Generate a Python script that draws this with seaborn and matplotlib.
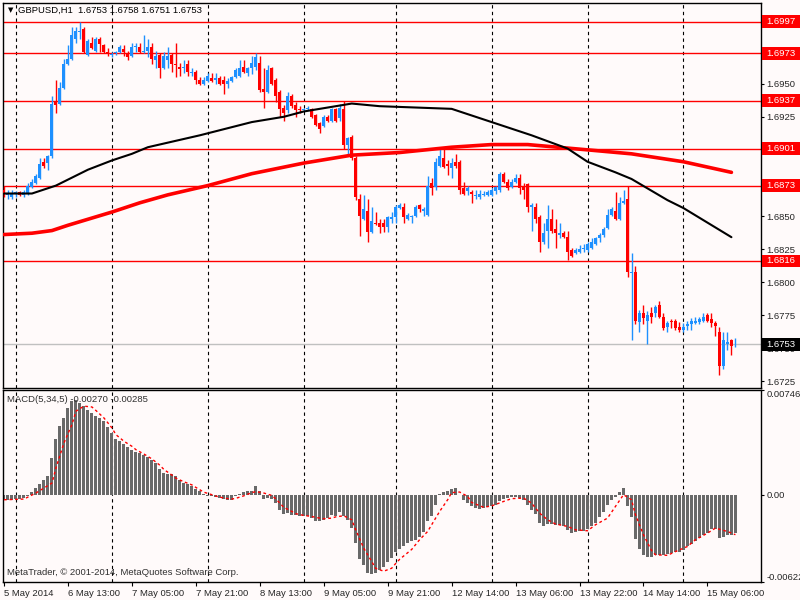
import numpy as np
import pandas as pd
import seaborn as sns
import matplotlib.pyplot as plt
from matplotlib import transforms
from matplotlib.patches import Rectangle

# GBPUSD H1 candles (one per hour, bar 0 = 5 May 21:00)
opens = [
    1.6870, 1.6866, 1.6864, 1.6867, 1.6868, 1.6866, 1.6867, 1.6872, 1.6875, 1.6879,
    1.6891, 1.6890, 1.6895, 1.6937, 1.6935, 1.6947, 1.6965, 1.6969, 1.6984, 1.6989,
    1.6991, 1.6972, 1.6981, 1.6975, 1.6984, 1.6979, 1.6974, 1.6972, 1.6973, 1.6974,
    1.6976, 1.6973, 1.6971, 1.6978, 1.6978, 1.6974, 1.6975, 1.6978, 1.6968, 1.6972,
    1.6962, 1.6968, 1.6972, 1.6965, 1.6963, 1.6962, 1.6965, 1.6958, 1.6959, 1.6953,
    1.6950, 1.6952, 1.6954, 1.6953, 1.6954, 1.6953, 1.6950, 1.6952, 1.6955, 1.6956,
    1.6963, 1.6958, 1.6962, 1.6963, 1.6966, 1.6946, 1.6944, 1.6962, 1.6953, 1.6944,
    1.6932, 1.6930, 1.6941, 1.6934, 1.6931, 1.6930, 1.6931, 1.6931, 1.6926, 1.6920,
    1.6918, 1.6925, 1.6922, 1.6931, 1.6924, 1.6931, 1.6904, 1.6910, 1.6894, 1.6863,
    1.6848, 1.6854, 1.6838, 1.6845, 1.6845, 1.6845, 1.6842, 1.6848, 1.6849, 1.6856,
    1.6857, 1.6848, 1.6849, 1.6850, 1.6858, 1.6854, 1.6851, 1.6875, 1.6872, 1.6888,
    1.6894, 1.6889, 1.6886, 1.6891, 1.6891, 1.6871, 1.6869, 1.6868, 1.6865, 1.6864,
    1.6866, 1.6866, 1.6866, 1.6869, 1.6870, 1.6882, 1.6876, 1.6872, 1.6876, 1.6879,
    1.6873, 1.6874, 1.6857, 1.6857, 1.6849, 1.6830, 1.6839, 1.6848, 1.6840, 1.6836,
    1.6837, 1.6834, 1.6824, 1.6822, 1.6823, 1.6825, 1.6824, 1.6826, 1.6829, 1.6833,
    1.6836, 1.6841, 1.6851, 1.6854, 1.6848, 1.6860, 1.6863, 1.6807, 1.6808, 1.6770,
    1.6777, 1.6771, 1.6777, 1.6777, 1.6783, 1.6774, 1.6766, 1.6771, 1.6771, 1.6766,
    1.6764, 1.6767, 1.6768, 1.6769, 1.6770, 1.6771, 1.6775, 1.6772, 1.6769, 1.6762,
    1.6737, 1.6753, 1.6756, 1.6753]
highs = [
    1.6873, 1.6870, 1.6870, 1.6869, 1.6869, 1.6870, 1.6875, 1.6878, 1.6882, 1.6894,
    1.6894, 1.6896, 1.6941, 1.6953, 1.6951, 1.6969, 1.6979, 1.6993, 1.6993, 1.6997,
    1.6993, 1.6984, 1.6985, 1.6985, 1.6985, 1.6980, 1.6977, 1.6974, 1.6975, 1.6979,
    1.6979, 1.6975, 1.6981, 1.6981, 1.6981, 1.6987, 1.6984, 1.6981, 1.6975, 1.6973,
    1.6974, 1.6978, 1.6973, 1.6981, 1.6966, 1.6968, 1.6968, 1.6962, 1.6960, 1.6955,
    1.6955, 1.6958, 1.6958, 1.6958, 1.6956, 1.6956, 1.6954, 1.6956, 1.6962, 1.6968,
    1.6968, 1.6963, 1.6971, 1.6973, 1.6971, 1.6962, 1.6964, 1.6963, 1.6954, 1.6945,
    1.6934, 1.6944, 1.6942, 1.6936, 1.6933, 1.6932, 1.6933, 1.6932, 1.6927, 1.6921,
    1.6926, 1.6926, 1.6932, 1.6932, 1.6935, 1.6937, 1.6910, 1.6911, 1.6895, 1.6867,
    1.6866, 1.6863, 1.6857, 1.6853, 1.6848, 1.6848, 1.6850, 1.6853, 1.6858, 1.6860,
    1.6860, 1.6852, 1.6851, 1.6858, 1.6859, 1.6857, 1.6880, 1.6879, 1.6894, 1.6902,
    1.6901, 1.6892, 1.6894, 1.6897, 1.6892, 1.6876, 1.6873, 1.6870, 1.6870, 1.6870,
    1.6869, 1.6870, 1.6871, 1.6873, 1.6883, 1.6883, 1.6878, 1.6878, 1.6882, 1.6882,
    1.6875, 1.6875, 1.6860, 1.6860, 1.6851, 1.6845, 1.6858, 1.6855, 1.6848, 1.6845,
    1.6839, 1.6839, 1.6826, 1.6826, 1.6828, 1.6829, 1.6830, 1.6833, 1.6834, 1.6837,
    1.6842, 1.6855, 1.6857, 1.6868, 1.6864, 1.6870, 1.6873, 1.6822, 1.6812, 1.6779,
    1.6783, 1.6778, 1.6781, 1.6783, 1.6786, 1.6777, 1.6771, 1.6772, 1.6772, 1.6770,
    1.6769, 1.6771, 1.6773, 1.6774, 1.6774, 1.6777, 1.6777, 1.6777, 1.6771, 1.6766,
    1.6762, 1.6762, 1.6757, 1.6758]
lows = [
    1.6864, 1.6863, 1.6863, 1.6864, 1.6865, 1.6864, 1.6866, 1.6871, 1.6874, 1.6878,
    1.6886, 1.6885, 1.6894, 1.6928, 1.6934, 1.6946, 1.6964, 1.6968, 1.6981, 1.6984,
    1.6973, 1.6971, 1.6976, 1.6974, 1.6974, 1.6973, 1.6971, 1.6970, 1.6972, 1.6973,
    1.6971, 1.6968, 1.6970, 1.6974, 1.6973, 1.6973, 1.6970, 1.6965, 1.6962, 1.6954,
    1.6961, 1.6962, 1.6959, 1.6955, 1.6956, 1.6958, 1.6956, 1.6956, 1.6950, 1.6949,
    1.6949, 1.6951, 1.6951, 1.6950, 1.6949, 1.6942, 1.6947, 1.6951, 1.6954, 1.6955,
    1.6958, 1.6956, 1.6957, 1.6960, 1.6944, 1.6932, 1.6943, 1.6949, 1.6936, 1.6925,
    1.6922, 1.6928, 1.6932, 1.6925, 1.6928, 1.6929, 1.6930, 1.6924, 1.6918, 1.6913,
    1.6917, 1.6921, 1.6921, 1.6921, 1.6922, 1.6901, 1.6897, 1.6892, 1.6862, 1.6835,
    1.6847, 1.6830, 1.6837, 1.6843, 1.6837, 1.6838, 1.6838, 1.6845, 1.6845, 1.6855,
    1.6845, 1.6847, 1.6845, 1.6849, 1.6853, 1.6850, 1.6850, 1.6866, 1.6870, 1.6887,
    1.6886, 1.6881, 1.6879, 1.6886, 1.6867, 1.6866, 1.6866, 1.6860, 1.6863, 1.6863,
    1.6865, 1.6865, 1.6865, 1.6867, 1.6868, 1.6875, 1.6870, 1.6871, 1.6875, 1.6867,
    1.6863, 1.6853, 1.6839, 1.6845, 1.6823, 1.6829, 1.6826, 1.6837, 1.6826, 1.6833,
    1.6833, 1.6817, 1.6819, 1.6821, 1.6822, 1.6823, 1.6823, 1.6825, 1.6828, 1.6830,
    1.6834, 1.6840, 1.6850, 1.6847, 1.6847, 1.6859, 1.6804, 1.6756, 1.6768, 1.6762,
    1.6768, 1.6753, 1.6769, 1.6774, 1.6773, 1.6764, 1.6762, 1.6765, 1.6764, 1.6762,
    1.6762, 1.6764, 1.6764, 1.6768, 1.6768, 1.6770, 1.6770, 1.6766, 1.6759, 1.6730,
    1.6734, 1.6749, 1.6745, 1.6751]
closes = [
    1.6867, 1.6867, 1.6867, 1.6868, 1.6866, 1.6868, 1.6873, 1.6876, 1.6880, 1.6889,
    1.6888, 1.6895, 1.6935, 1.6934, 1.6947, 1.6965, 1.6969, 1.6987, 1.6990, 1.6990,
    1.6974, 1.6982, 1.6977, 1.6984, 1.6980, 1.6974, 1.6973, 1.6972, 1.6974, 1.6978,
    1.6974, 1.6970, 1.6978, 1.6978, 1.6974, 1.6975, 1.6978, 1.6969, 1.6971, 1.6962,
    1.6971, 1.6971, 1.6965, 1.6964, 1.6961, 1.6963, 1.6959, 1.6959, 1.6953, 1.6950,
    1.6953, 1.6956, 1.6952, 1.6954, 1.6950, 1.6950, 1.6952, 1.6955, 1.6960, 1.6962,
    1.6959, 1.6962, 1.6966, 1.6970, 1.6945, 1.6944, 1.6960, 1.6950, 1.6941, 1.6931,
    1.6928, 1.6941, 1.6933, 1.6930, 1.6930, 1.6931, 1.6932, 1.6925, 1.6919, 1.6916,
    1.6925, 1.6922, 1.6931, 1.6922, 1.6932, 1.6904, 1.6909, 1.6894, 1.6864, 1.6850,
    1.6855, 1.6838, 1.6846, 1.6844, 1.6842, 1.6842, 1.6849, 1.6849, 1.6857, 1.6858,
    1.6849, 1.6851, 1.6850, 1.6857, 1.6855, 1.6855, 1.6873, 1.6871, 1.6891, 1.6895,
    1.6887, 1.6888, 1.6890, 1.6888, 1.6870, 1.6867, 1.6871, 1.6867, 1.6866, 1.6867,
    1.6867, 1.6868, 1.6870, 1.6872, 1.6882, 1.6876, 1.6871, 1.6876, 1.6879, 1.6871,
    1.6870, 1.6857, 1.6858, 1.6848, 1.6830, 1.6837, 1.6848, 1.6839, 1.6837, 1.6837,
    1.6834, 1.6823, 1.6820, 1.6824, 1.6825, 1.6826, 1.6829, 1.6830, 1.6833, 1.6836,
    1.6840, 1.6851, 1.6855, 1.6848, 1.6860, 1.6861, 1.6808, 1.6808, 1.6771, 1.6777,
    1.6773, 1.6775, 1.6774, 1.6781, 1.6774, 1.6765, 1.6769, 1.6770, 1.6765, 1.6764,
    1.6766, 1.6768, 1.6771, 1.6771, 1.6772, 1.6774, 1.6771, 1.6769, 1.6767, 1.6737,
    1.6756, 1.6755, 1.6752, 1.6753]

# moving averages (black = fast, red = slow), read at a few bars
ma_fast_bar = [0, 7, 13, 17, 21, 27, 32, 36, 49, 62, 70, 75, 85, 87, 94, 112,
               122, 132, 141, 146, 153, 157, 166, 170, 182]
ma_fast = [1.6867, 1.6867, 1.6873, 1.6879, 1.6885, 1.6892, 1.6897, 1.6902, 1.6911,
           1.6921, 1.6925, 1.6929, 1.6934, 1.6935, 1.6933, 1.6931, 1.6921, 1.6911,
           1.6901, 1.6891, 1.6883, 1.6878, 1.6862, 1.6856, 1.6834]
ma_slow_bar = [0, 7, 12, 16, 27, 34, 41, 51, 62, 75, 87, 99, 112, 122, 131, 146,
               157, 170, 182]
ma_slow = [1.6836, 1.6837, 1.6839, 1.6843, 1.6853, 1.6860, 1.6866, 1.6873, 1.6882,
           1.6890, 1.6896, 1.6898, 1.6902, 1.6904, 1.6904, 1.6900, 1.6897, 1.6891,
           1.6883]

levels = [1.6997, 1.6973, 1.6937, 1.6901, 1.6873, 1.6816]
last_price = 1.6753
price_ticks = [1.6725, 1.6750, 1.6775, 1.6800, 1.6825, 1.6850, 1.6875, 1.6900,
               1.6925, 1.6950, 1.6975, 1.7000]
hidden_ticks = [1.6875, 1.6900, 1.6975]  # fully behind the level boxes

# MACD(5,34,5)
macd_hist = [
    -0.00036, -0.00036, -0.00036, -0.00031, -0.00029, -0.00024, -0.00010, 0.00019, 0.00048, 0.00079,
    0.00107, 0.00131, 0.00262, 0.00397, 0.00488, 0.00547, 0.00619, 0.00671, 0.00678, 0.00655,
    0.00631, 0.00607, 0.00583, 0.00559, 0.00547, 0.00524, 0.00481, 0.00440, 0.00400, 0.00381,
    0.00362, 0.00338, 0.00317, 0.00302, 0.00298, 0.00286, 0.00267, 0.00250, 0.00226, 0.00183,
    0.00155, 0.00148, 0.00148, 0.00131, 0.00107, 0.00083, 0.00076, 0.00060, 0.00043, 0.00024,
    0.00005, -0.00007, -0.00012, -0.00019, -0.00024, -0.00029, -0.00036, -0.00036, -0.00010, 0.00007,
    0.00017, 0.00024, 0.00029, 0.00060, 0.00029, -0.00031, -0.00024, -0.00029, -0.00060, -0.00107,
    -0.00138, -0.00131, -0.00143, -0.00148, -0.00150, -0.00155, -0.00155, -0.00167, -0.00186, -0.00190,
    -0.00179, -0.00167, -0.00148, -0.00150, -0.00126, -0.00155, -0.00179, -0.00238, -0.00345, -0.00457,
    -0.00500, -0.00559, -0.00564, -0.00559, -0.00536, -0.00512, -0.00476, -0.00452, -0.00405, -0.00386,
    -0.00369, -0.00345, -0.00333, -0.00321, -0.00298, -0.00267, -0.00190, -0.00150, -0.00071, 0.00005,
    0.00019, 0.00029, 0.00043, 0.00048, -0.00005, -0.00036, -0.00060, -0.00083, -0.00095, -0.00100,
    -0.00095, -0.00090, -0.00083, -0.00071, -0.00043, -0.00029, -0.00024, -0.00019, -0.00014, -0.00024,
    -0.00036, -0.00071, -0.00107, -0.00138, -0.00202, -0.00226, -0.00209, -0.00209, -0.00214, -0.00219,
    -0.00226, -0.00255, -0.00274, -0.00267, -0.00262, -0.00262, -0.00243, -0.00226, -0.00202, -0.00162,
    -0.00124, -0.00076, -0.00036, -0.00017, 0.00019, 0.00048, -0.00083, -0.00162, -0.00314, -0.00386,
    -0.00428, -0.00447, -0.00447, -0.00433, -0.00433, -0.00428, -0.00424, -0.00417, -0.00409, -0.00405,
    -0.00397, -0.00369, -0.00352, -0.00333, -0.00309, -0.00290, -0.00274, -0.00243, -0.00243, -0.00305,
    -0.00298, -0.00290, -0.00286, -0.00270]
signal_bar = [0, 5, 8, 10, 12, 13, 15, 17, 18, 20, 22, 23, 25, 27, 28, 30, 32, 33, 35, 37,
              39, 40, 42, 43, 45, 47, 48, 50, 52, 53, 55, 57, 58, 60, 62, 63, 65, 67, 68, 70,
              72, 73, 75, 77, 78, 80, 82, 83, 85, 87, 88, 90, 92, 93, 95, 97, 98, 99, 102, 104,
              106, 107, 109, 111, 112, 114, 116, 117, 120, 122, 125, 127, 130, 132, 134, 136,
              138, 141, 143, 146, 148, 151, 153, 155, 157, 158, 160, 162, 163, 166, 168, 171,
              173, 176, 178, 181, 183]
signal = [-0.00036, -0.00031, 0.00012, 0.00048, 0.00083, 0.00190, 0.00369, 0.00500, 0.00595,
          0.00631, 0.00625, 0.00600, 0.00547, 0.00476, 0.00428, 0.00381, 0.00345, 0.00321,
          0.00290, 0.00255, 0.00210, 0.00180, 0.00140, 0.00118, 0.00092, 0.00070, 0.00052,
          0.00018, 0.00000, -0.00010, -0.00024, -0.00031, -0.00026, -0.00008, 0.00015, 0.00022,
          0.00012, -0.00005, -0.00030, -0.00090, -0.00119, -0.00135, -0.00148, -0.00155,
          -0.00162, -0.00171, -0.00167, -0.00158, -0.00150, -0.00179, -0.00250, -0.00381,
          -0.00476, -0.00525, -0.00545, -0.00524, -0.00490, -0.00460, -0.00390, -0.00320,
          -0.00262, -0.00214, -0.00119, -0.00036, 0.00015, 0.00019, -0.00012, -0.00055,
          -0.00090, -0.00080, -0.00048, -0.00028, -0.00024, -0.00060, -0.00131, -0.00179,
          -0.00209, -0.00226, -0.00250, -0.00257, -0.00214, -0.00167, -0.00083, 0.00000,
          -0.00036, -0.00143, -0.00286, -0.00397, -0.00428, -0.00432, -0.00405, -0.00369,
          -0.00321, -0.00274, -0.00238, -0.00262, -0.00285]
macd_ticks = [-0.00622, 0.0, 0.00746]
macd_tick_labels = ['-0.00622', '0.00', '0.00746']

date_labels = ['5 May 2014', '6 May 13:00', '7 May 05:00', '7 May 21:00', '8 May 13:00',
               '9 May 05:00', '9 May 21:00', '12 May 14:00', '13 May 06:00',
               '13 May 22:00', '14 May 14:00', '15 May 06:00']
day_starts = [3, 27, 51, 75, 98, 122, 146, 170]

sns.set_style('white')
plt.rcParams['font.family'] = ['Liberation Sans', 'DejaVu Sans']
bg = '#FFFAFA'
fs = 6.8

fig = plt.figure(figsize=(8, 6), dpi=100, facecolor=bg)
ax = fig.add_axes([0.00375, 0.35333, 0.9475, 0.64167], facecolor=bg)
ax2 = fig.add_axes([0.00375, 0.03, 0.9475, 0.32], facecolor=bg, sharex=ax)

df = pd.DataFrame({'o': opens, 'h': highs, 'l': lows, 'c': closes})
df['i'] = np.arange(len(df))
col = np.where(df.c >= df.o, '#1E90FF', '#FF0000')

for d in day_starts:
    for a in (ax, ax2):
        a.axvline(d, color='black', lw=0.8, ls=(0, (3, 3)), zorder=0)

for lv in levels:
    ax.axhline(lv, color='#FF0000', lw=1, zorder=1)
ax.axhline(last_price, color='#C0C0C0', lw=1, zorder=1)

ax.vlines(df.i, df.l, df.h, colors=col, lw=1, zorder=3)
body = (df.c - df.o).abs().clip(lower=0.00006)
ax.bar(df.i, body, bottom=df[['o', 'c']].min(axis=1), width=0.75, color=col,
       linewidth=0, zorder=3)

sns.lineplot(x=ma_slow_bar, y=ma_slow, ax=ax, color='#FF0000', lw=2.6, zorder=4)
sns.lineplot(x=ma_fast_bar, y=ma_fast, ax=ax, color='black', lw=1.5, zorder=4)

ax.set_xlim(-0.25, 189.4)
ax.set_ylim(1.6720, 1.7011)
ax.yaxis.tick_right()
ax.set_yticks(price_ticks)
ax.set_yticklabels(['' if t in hidden_ticks else f'{t:.4f}' for t in price_ticks])
ax.tick_params(axis='y', right=True, length=2.2, width=0.8, pad=1.8, labelsize=fs,
               direction='out', color='black')
ax.tick_params(axis='x', bottom=False, labelbottom=False)
ax.set_xlabel('')
ax.set_ylabel('')

# price boxes on the right scale, 13 px tall, covering the scale labels behind them
tr = transforms.blended_transform_factory(ax.transAxes, ax.transData)
box_h = 0.00098
for lv, fc in [(v, '#FF0000') for v in levels] + [(last_price, 'black')]:
    ax.add_patch(Rectangle((1.0013, lv - box_h / 2), 0.06, box_h, transform=tr,
                           facecolor=fc, edgecolor='none', clip_on=False, zorder=6))
    ax.text(1.0066, lv, f'{lv:.4f}', transform=tr, ha='left', va='center',
            color='white', fontsize=fs, clip_on=False, zorder=7)

ax.text(0.006, 0.982, '\u25bc', transform=ax.transAxes, fontsize=5, va='center',
        ha='left', color='black', family=['DejaVu Sans'])
ax.text(0.02, 0.982, 'GBPUSD,H1  1.6753 1.6758 1.6751 1.6753', transform=ax.transAxes,
        fontsize=fs, va='center', ha='left', color='black')

# MACD panel
ax2.bar(df.i, macd_hist, width=0.75, color='#696969', linewidth=0, zorder=2)
sns.lineplot(x=signal_bar, y=signal, ax=ax2, color='#FF0000', lw=1,
             linestyle=(0, (2, 2)), zorder=3)
ax2.set_ylim(-0.00622, 0.00746)
ax2.yaxis.tick_right()
ax2.set_yticks(macd_ticks)
ax2.set_yticklabels(macd_tick_labels)
ax2.tick_params(axis='y', right=True, length=2.2, width=0.8, pad=1.8, labelsize=fs,
                direction='out', color='black')
lbls = ax2.get_yticklabels()
lbls[0].set_va('bottom')
lbls[2].set_va('top')
ax2.set_xticks(np.arange(0, len(df), 16))
ax2.set_xticklabels(date_labels, ha='left')
ax2.tick_params(axis='x', bottom=True, length=3, width=0.8, pad=2, labelsize=fs,
                direction='out', color='black')
ax2.set_xlabel('')
ax2.set_ylabel('')
ax2.text(0.005, 0.975, 'MACD(5,34,5) -0.00270 -0.00285', transform=ax2.transAxes,
         fontsize=fs, va='top', ha='left', color='#303030')
ax2.text(0.005, 0.025, 'MetaTrader, \u00a9 2001-2014, MetaQuotes Software Corp.',
         transform=ax2.transAxes, fontsize=fs, va='bottom', ha='left', color='#303030')

for a in (ax, ax2):
    for s in a.spines.values():
        s.set_visible(True)
        s.set_color('black')
        s.set_linewidth(1)

fig.savefig('out.png', dpi=100, facecolor=bg)
